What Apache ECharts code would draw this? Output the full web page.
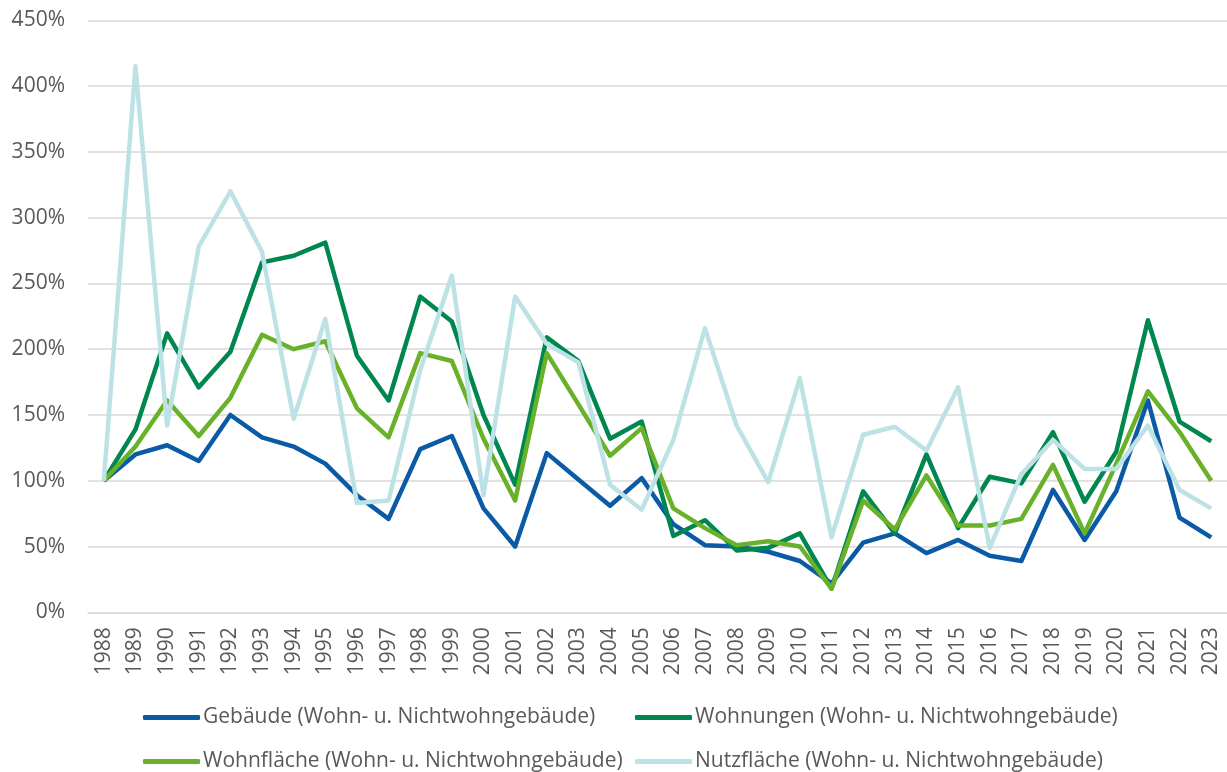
<!DOCTYPE html>
<html>
<head>
<meta charset="utf-8">
<script src="https://cdn.jsdelivr.net/npm/echarts@6/dist/echarts.min.js"></script>
<style>
  html, body { margin: 0; padding: 0; background: #fff; }
  #chart { width: 1227px; height: 772px; }
</style>
</head>
<body>
<div id="chart"></div>
<script>
const years = ['1988','1989','1990','1991','1992','1993','1994','1995','1996','1997','1998','1999',
  '2000','2001','2002','2003','2004','2005','2006','2007','2008','2009','2010','2011',
  '2012','2013','2014','2015','2016','2017','2018','2019','2020','2021','2022','2023'];

const gebaeude = [100, 120, 127, 115, 150, 133, 126, 113, 89, 71, 124, 134,
  79, 50, 121, 101, 81, 102, 67, 51, 50, 46, 39, 22,
  53, 60, 45, 55, 43, 39, 93, 55, 92, 161, 72, 57];

const wohnungen = [100, 139, 212, 171, 198, 266, 271, 281, 195, 161, 240, 221,
  150, 97, 209, 191, 132, 145, 58, 70, 47, 49, 60, 18,
  92, 60, 120, 64, 103, 98, 137, 84, 122, 222, 145, 130];

const wohnflaeche = [100, 126, 161, 134, 163, 211, 200, 206, 155, 133, 197, 191,
  132, 85, 197, 158, 119, 140, 79, 64, 51, 54, 50, 18,
  85, 63, 104, 66, 66, 71, 112, 60, 113, 168, 137, 100];

const nutzflaeche = [100, 415, 142, 278, 320, 274, 147, 223, 83, 85, 184, 256,
  89, 240, 204, 190, 97, 78, 131, 216, 142, 99, 178, 57,
  135, 141, 123, 171, 49, 105, 131, 109, 109, 142, 93, 79];

const yTicks = { min: 0, max: 450, interval: 50 };

const names = [
  'Gebäude (Wohn- u. Nichtwohngebäude)',
  'Wohnungen (Wohn- u. Nichtwohngebäude)',
  'Wohnfläche (Wohn- u. Nichtwohngebäude)',
  'Nutzfläche (Wohn- u. Nichtwohngebäude)'
];
const colors = ['#0a5aa5', '#00874f', '#6ab12a', '#bde2e5'];
const values = [gebaeude, wohnungen, wohnflaeche, nutzflaeche];

const textColor = '#595959';
const font = '"Open Sans", "Noto Sans", sans-serif';
const fontSize = 21;

// legend placed as a 2x2 grid, one component per item
const legendPos = [
  { left: 143, top: 707 },
  { left: 635, top: 707 },
  { left: 143, top: 751 },
  { left: 635, top: 751 }
];

const chart = echarts.init(document.getElementById('chart'));

chart.setOption({
  animation: false,
  backgroundColor: '#fff',
  textStyle: { fontFamily: font },
  grid: { left: 88, right: -7, top: 20.3, bottom: 159.7, containLabel: false },
  xAxis: {
    type: 'category',
    data: years,
    boundaryGap: true,
    axisLine: { lineStyle: { color: '#d9d9d9', width: 1.5 } },
    axisTick: { show: false },
    axisLabel: {
      rotate: 90,
      interval: 0,
      margin: 15,
      color: textColor,
      fontSize: fontSize,
      fontFamily: font
    }
  },
  yAxis: {
    type: 'value',
    min: yTicks.min,
    max: yTicks.max,
    interval: yTicks.interval,
    axisLine: { show: false },
    axisTick: { show: false },
    splitLine: { lineStyle: { color: '#d9d9d9', width: 1.5 } },
    axisLabel: {
      formatter: '{value}%',
      margin: 23,
      color: textColor,
      fontSize: fontSize,
      fontFamily: font
    }
  },
  legend: legendPos.map((p, i) => ({
    data: [names[i]],
    left: p.left,
    top: p.top,
    icon: 'roundRect',
    itemWidth: 57,
    itemHeight: 5,
    padding: 0,
    textStyle: { color: textColor, fontSize: fontSize, fontFamily: font, padding: [0, 0, 0, -2] }
  })),
  series: values.map((v, i) => ({
    name: names[i],
    type: 'line',
    data: v,
    color: colors[i],
    symbol: 'none',
    lineStyle: { width: 4.5, color: colors[i], join: 'round' }
  }))
});
</script>
</body>
</html>
